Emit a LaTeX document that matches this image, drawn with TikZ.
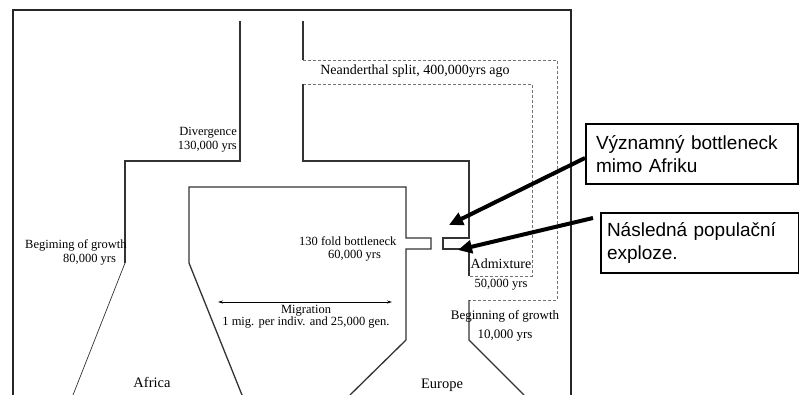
\documentclass[tikz,border=0pt]{standalone}
\usepackage{fontspec}
\setmainfont{Liberation Serif}
\newfontfamily\calloutfont{Liberation Sans}
\usetikzlibrary{arrows.meta,calc}
\begin{document}
\begin{tikzpicture}[x=1pt,y=-1pt,
  frame/.style={line width=2pt, black!85},
  trunk/.style={line width=1.3pt, black!80, line join=miter},
  thinline/.style={line width=0.7pt, black!80},
  dashline/.style={line width=0.7pt, black!55, dash pattern=on 3pt off 2pt},
  lbl/.style={inner sep=0pt, font=\fontsize{12.5}{14}\selectfont},
  callout/.style={draw, line width=2pt, anchor=north west, align=left,
    font=\calloutfont\fontsize{19}{22.5}\selectfont, minimum height=60pt, inner ysep=0pt},
  pointer/.style={line width=4pt, -{Triangle[length=14pt,width=13pt]}},
  migr/.style={line width=0.9pt, {Stealth[length=5pt,width=3pt]}-{Stealth[length=5pt,width=3pt]}}
]
\useasboundingbox (0,0) rectangle (799,395);
\fill[white] (0,0) rectangle (799,395);
\begin{scope}
\clip (0,0) rectangle (799,395);
% outer frame
\draw[frame] (13,400) -- (13,10) -- (571,10) -- (571,400);
% African ancestral trunk
\draw[trunk] (240,21) -- (240,161) -- (125,161) -- (125,263);
\draw[thinline] (125,263) -- (73,395);
% Africa right side / migration side
\draw[trunk] (406,340) -- (406,249) -- (431,249) -- (431,238) -- (406,238) -- (406,187) -- (189,187) -- (189,263) -- (242,395);
\draw[trunk] (406,340) -- (350,395);
% Neanderthal / European trunk
\draw[trunk] (303,21) -- (303,60);
\draw[dashline] (303,60) -- (557,60) -- (557,300) -- (469,300);
\draw[dashline] (303,84) -- (532,84) -- (532,276) -- (469,276);
\draw[trunk] (303,84) -- (303,161) -- (469,161) -- (469,238) -- (443,238) -- (443,249) -- (469,249) -- (469,276);
\draw[trunk] (469,300) -- (469,340) -- (524,395);
\end{scope}
% migration arrow
\coordinate (mA) at (218,302);
\coordinate (mB) at (392,302);
\draw[migr] (mA) -- (mB);
% labels (base anchor = baseline of the last line)
\node[lbl, anchor=base east, align=right] (div) at (237,150) {Divergence\\130,000 yrs};
\node[lbl, anchor=base, font=\fontsize{14}{16}\selectfont] (nean) at (415,75) {Neanderthal split, 400,000yrs ago};
\node[lbl, anchor=base west, align=left] (bga) at (25,262) {Begiming of growth\\\hspace*{38pt}80,000 yrs};
\node[lbl, anchor=base west, align=left, font=\fontsize{12.5}{12.6}\selectfont] (bot) at (299,258.5) {130 fold bottleneck\\\hspace*{29pt}60,000 yrs};
\node[lbl, anchor=base, align=center, font=\fontsize{12.5}{12}\selectfont] (mig) at (306,325) {Migration\\1 mig. per indiv. and 25,000 gen.};
\node[lbl, anchor=base, align=center, font=\fontsize{12.5}{19}\selectfont] (adm) at (501,287) {{\fontsize{14}{19}\selectfont Admixture}\\50,000 yrs};
\node[lbl, anchor=base, align=center, font=\fontsize{13}{19}\selectfont] (bge) at (505,338) {Beginning of growth\\10,000 yrs};
\node[lbl, anchor=base, font=\fontsize{14.5}{16}\selectfont] (afr) at (152,387) {Africa};
\node[lbl, anchor=base, font=\fontsize{14.5}{16}\selectfont] (eur) at (442,388) {Europe};
% callouts
\node[callout, minimum width=212pt, text width=192pt, inner xsep=10pt] (b1) at (585,123) {Významný bottleneck\\mimo Afriku};
\node[callout, minimum width=198pt, text width=186pt, inner xsep=6pt] (b2) at (600,212) {Následná populační\\exploze.};
\coordinate (t1) at (449,225);
\coordinate (t2) at (458,250);
\coordinate (s2) at ($(b2.north west)+(-7,6)$);
\draw[pointer] ([yshift=-4pt]b1.west) -- (t1);
\draw[pointer] (s2) -- (t2);
\end{tikzpicture}
\end{document}
